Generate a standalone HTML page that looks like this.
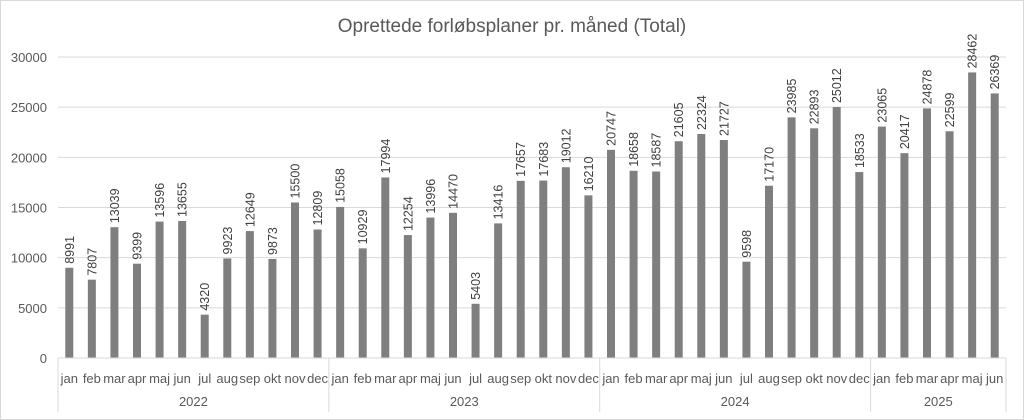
<!DOCTYPE html>
<html><head><meta charset="utf-8"><style>
body{margin:0;background:#fff}
svg{display:block;font-family:"Liberation Sans",sans-serif}
</style></head><body>
<svg id="c" width="1024" height="420">
<rect x="0.5" y="0.5" width="1023" height="419" fill="#fff" stroke="#d9d9d9"/>
<text x="512" y="32" text-anchor="middle" font-size="19" fill="#595959">Oprettede forløbsplaner pr. måned (Total)</text>
<g id="grid"></g><g id="bars"></g><g id="axis"></g>
</svg>
<script>
const years=["2022","2023","2024","2025"];
const months=["jan","feb","mar","apr","maj","jun","jul","aug","sep","okt","nov","dec"];
const values=[8991,7807,13039,9399,13596,13655,4320,9923,12649,9873,15500,12809,
15058,10929,17994,12254,13996,14470,5403,13416,17657,17683,19012,16210,
20747,18658,18587,21605,22324,21727,9598,17170,23985,22893,25012,18533,
23065,20417,24878,22599,28462,26369];
const yTicks=[0,5000,10000,15000,20000,25000,30000];
const NS="http://www.w3.org/2000/svg";
const x0=58,x1=1006,y0=358,yTop=57,yMax=30000;
const step=(x1-x0)/values.length;
const y=v=>y0-(v/yMax)*(y0-yTop);
const cx=i=>x0+step*(i+0.5);
function mk(t,a,p){const e=document.createElementNS(NS,t);for(const k in a)e.setAttribute(k,a[k]);p.appendChild(e);return e;}
const G=document.getElementById('grid'),B=document.getElementById('bars'),A=document.getElementById('axis');
yTicks.forEach(t=>{
 if(t>0){const l=mk('line',{x1:x0,x2:x1,y1:y(t),y2:y(t),stroke:'#d9d9d9'},G);
 
 }
 const tx=mk('text',{x:47,y:y(t)+5,'text-anchor':'end','font-size':13,fill:'#595959'},G);
 tx.textContent=t;
 
 
});
const bl=mk('line',{x1:x0,x2:x1,y1:y0,y2:y0,stroke:'#d9d9d9'},A);


values.forEach((v,i)=>{
 const r=mk('rect',{x:cx(i)-4,y:y(v),width:8,height:y0-y(v),fill:'#7f7f7f'},B);
 
 
 const t=mk('text',{x:0,y:0,'font-size':12.5,fill:'#404040',transform:`translate(${cx(i)+4.5},${y(v)-4}) rotate(-90)`},B);
 t.textContent=v;
 
 
 const m=mk('text',{x:cx(i),y:383,'text-anchor':'middle','font-size':13,fill:'#595959'},A);
 m.textContent=months[i%12];
 
 
});
let start=0;
years.forEach((yr,g)=>{
 const n=Math.min(12,values.length-start);
 const xa=x0+step*start,xb=x0+step*(start+n);
 const s=mk('line',{x1:xa,x2:xa,y1:y0,y2:412,stroke:'#d9d9d9'},A);
 
 
 const t=mk('text',{x:(xa+xb)/2,y:406,'text-anchor':'middle','font-size':13,fill:'#595959'},A);
 t.textContent=yr;
 
 
 start+=n;
});
const e=mk('line',{x1:x1,x2:x1,y1:y0,y2:412,stroke:'#d9d9d9'},A);


</script>
</body></html>
